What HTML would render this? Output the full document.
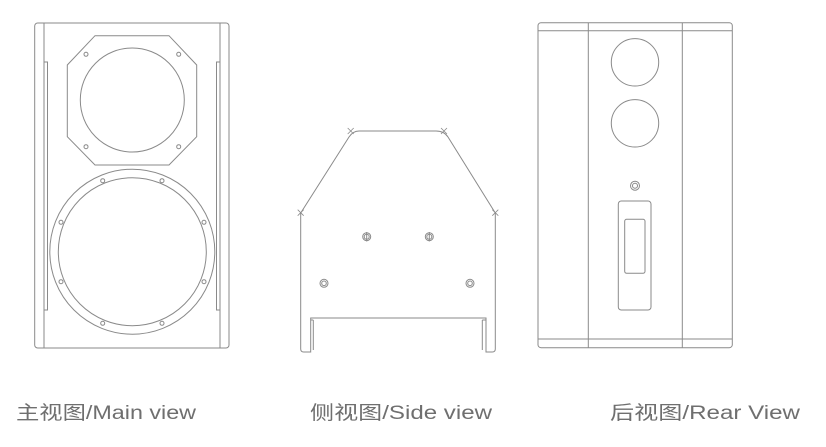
<!DOCTYPE html>
<html><head><meta charset="utf-8"><style>
html,body{margin:0;padding:0;background:#fff;width:826px;height:447px;overflow:hidden}
svg{display:block}
text{font-family:"Liberation Sans","Noto Sans CJK SC",sans-serif;font-size:19px;fill:#6f6f6f}
</style></head><body>
<svg width="826" height="447" viewBox="0 0 826 447" xmlns="http://www.w3.org/2000/svg">
<g fill="none" stroke="#8a8a8a" stroke-width="1">
<!-- Main view -->
<rect x="34.7" y="23" width="194.3" height="325" rx="3"/>
<line x1="44" y1="23" x2="44" y2="348"/>
<line x1="220" y1="23" x2="220" y2="348"/>
<rect x="44" y="62" width="3.5" height="248"/>
<rect x="216.5" y="62" width="3.5" height="248"/>
<polygon points="95,35.7 169,35.7 196.7,65 196.7,136.7 169,165 95,165 67.3,136.7 67.3,65"/>
<circle cx="132.3" cy="100" r="52"/>
<circle cx="86" cy="54.3" r="2"/><circle cx="178.7" cy="54.3" r="2"/>
<circle cx="86" cy="146.7" r="2"/><circle cx="178.7" cy="146.7" r="2"/>
<circle cx="132.3" cy="251.7" r="82.5"/>
<circle cx="132.3" cy="251.7" r="74"/>
<circle cx="102.7" cy="180.7" r="2"/><circle cx="162" cy="180.7" r="2"/>
<circle cx="61" cy="222.3" r="2"/><circle cx="204" cy="222.3" r="2"/>
<circle cx="61" cy="281.7" r="2"/><circle cx="204" cy="281.7" r="2"/>
<circle cx="102.7" cy="323.3" r="2"/><circle cx="162" cy="323.3" r="2"/>
<!-- Side view -->
<path d="M300.7,213 L300.7,349 Q300.7,352 303.7,352 L310.7,352 L310.7,318 L486,318 L486,352 L492.3,352 Q495.3,352 495.3,349 L495.3,213 L448,137 Q444,131 436,131 L359,131 Q353,131 349,137 Z"/>
<line x1="313.3" y1="320" x2="313.3" y2="350"/>
<line x1="482.3" y1="320" x2="482.3" y2="350"/>
<line x1="310.7" y1="320" x2="313.3" y2="320"/>
<line x1="482.3" y1="320" x2="486" y2="320"/>
<g stroke-width="0.8">
<path d="M347.7,128 l6,6 M353.7,128 l-6,6"/>
<path d="M441,128 l6,6 M447,128 l-6,6"/>
<path d="M297.7,209.7 l6,6 M303.7,209.7 l-6,6"/>
<path d="M492.3,209.7 l6,6 M498.3,209.7 l-6,6"/>
</g>
<circle cx="366.7" cy="236.7" r="4"/><circle cx="366.7" cy="236.7" r="2.5"/><line x1="366.7" y1="232" x2="366.7" y2="241.4"/>
<circle cx="429.3" cy="236.7" r="4"/><circle cx="429.3" cy="236.7" r="2.5"/><line x1="429.3" y1="232" x2="429.3" y2="241.4"/>
<circle cx="324" cy="283.3" r="4"/><circle cx="324" cy="283.3" r="2.3"/>
<circle cx="470" cy="283.3" r="4"/><circle cx="470" cy="283.3" r="2.3"/>
<!-- Rear view -->
<rect x="538" y="22.7" width="194.3" height="325" rx="3"/>
<line x1="538" y1="30.7" x2="732.3" y2="30.7"/>
<line x1="538" y1="339" x2="732.3" y2="339"/>
<line x1="588.3" y1="22.7" x2="588.3" y2="347.7"/>
<line x1="682.3" y1="22.7" x2="682.3" y2="347.7"/>
<circle cx="635" cy="62.3" r="23.7"/>
<circle cx="635" cy="123.3" r="23.7"/>
<circle cx="635" cy="185.7" r="4.5"/><circle cx="635" cy="185.7" r="2.5"/>
<rect x="618.3" y="201" width="32.7" height="109" rx="3"/>
<rect x="624.7" y="219.3" width="20.3" height="54" rx="2"/>
</g>
<text x="16" y="419" textLength="180" lengthAdjust="spacingAndGlyphs">主视图/Main view</text>
<text x="310" y="419" textLength="182" lengthAdjust="spacingAndGlyphs">侧视图/Side view</text>
<text x="610" y="419" textLength="190" lengthAdjust="spacingAndGlyphs">后视图/Rear View</text>
</svg>
</body></html>
